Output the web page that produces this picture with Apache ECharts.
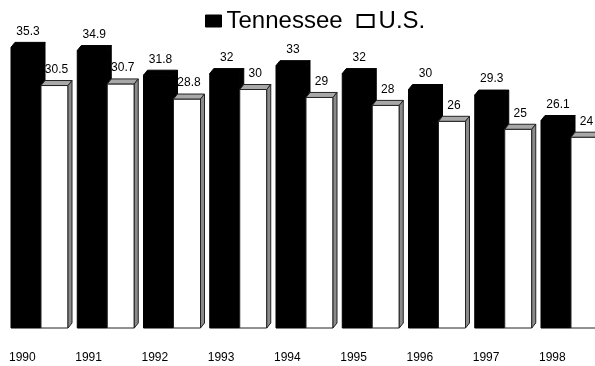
<!DOCTYPE html>
<html>
<head>
<meta charset="utf-8">
<script src="https://cdn.jsdelivr.net/npm/echarts@6/dist/echarts.min.js"></script>
<style>
  html, body { margin: 0; padding: 0; background: #fff; }
  #chart { width: 595px; height: 366px; }
</style>
</head>
<body>
<div id="chart"></div>
<script>
const years = ['1990', '1991', '1992', '1993', '1994', '1995', '1996', '1997', '1998'];
const tennessee = [35.3, 34.9, 31.8, 32, 33, 32, 30, 29.3, 26.1];
const us = [30.5, 30.7, 28.8, 30, 29, 28, 26, 25, 24];

const FONT = '"Liberation Sans", Arial, sans-serif';

// 3d-ish bar: front face, top face, side face, value label above
function makeBar(colors, offsetX, width) {
  return function (params, api) {
    const i = api.value(0);
    const v = api.value(1);
    const base = api.coord([i, 0]);
    const head = api.coord([i, v]);
    const x = base[0] + offsetX;
    const y0 = base[1];
    const y1 = head[1];
    const dx = 4, dy = 5;
    return {
      type: 'group',
      children: [
        {
          type: 'rect',
          shape: { x: x, y: y1, width: width, height: y0 - y1 },
          style: { fill: colors.front, stroke: colors.edge, lineWidth: 1 }
        },
        {
          type: 'polygon',
          shape: { points: [[x, y1], [x + dx, y1 - dy], [x + width + dx, y1 - dy], [x + width, y1]] },
          style: { fill: colors.top, stroke: colors.edge, lineWidth: 1 }
        },
        {
          type: 'polygon',
          shape: { points: [[x + width, y1], [x + width + dx, y1 - dy], [x + width + dx, y0 - dy], [x + width, y0]] },
          style: { fill: colors.side, stroke: colors.edge, lineWidth: 1 }
        },
        {
          type: 'text',
          x: x + width / 2 + 2,
          y: y1 - 16,
          style: {
            text: String(v),
            align: 'center',
            verticalAlign: 'middle',
            textAlign: 'center',
            textVerticalAlign: 'middle',
            font: '12px ' + FONT,
            fill: '#000'
          }
        }
      ]
    };
  };
}

const chart = echarts.init(document.getElementById('chart'));

chart.setOption({
  backgroundColor: '#fff',
  animation: false,
  legend: {
    left: 200,
    top: 4,
    itemWidth: 16,
    itemHeight: 12,
    itemGap: 14,
    textStyle: { fontSize: 24, color: '#000', fontFamily: FONT },
    data: [
      { name: 'Tennessee', icon: 'rect', itemStyle: { color: '#000', borderColor: '#000', borderWidth: 1 } },
      { name: 'U.S.', icon: 'rect', itemStyle: { color: '#fff', borderColor: '#000', borderWidth: 2 } }
    ]
  },
  grid: { left: 9, right: 56, top: 10, bottom: 38 },
  xAxis: {
    type: 'category',
    data: years,
    boundaryGap: false,
    axisLine: { show: false },
    axisTick: { show: false },
    splitLine: { show: false },
    axisLabel: {
      interval: 0,
      align: 'left',
      margin: 24,
      fontSize: 12,
      color: '#000',
      fontFamily: FONT
    }
  },
  yAxis: {
    type: 'value',
    min: 0,
    max: 40,
    show: false
  },
  series: [
    {
      name: 'Tennessee',
      type: 'custom',
      itemStyle: { color: '#000' },
      renderItem: makeBar({ front: '#000', top: '#000', side: '#000', edge: '#000' }, 2, 30),
      data: tennessee.map((v, i) => [i, v])
    },
    {
      name: 'U.S.',
      type: 'custom',
      itemStyle: { color: '#fff', borderColor: '#000' },
      renderItem: makeBar({ front: '#fff', top: '#a8a8a8', side: '#8a8a8a', edge: '#222' }, 32, 27),
      data: us.map((v, i) => [i, v])
    }
  ]
});
</script>
</body>
</html>
